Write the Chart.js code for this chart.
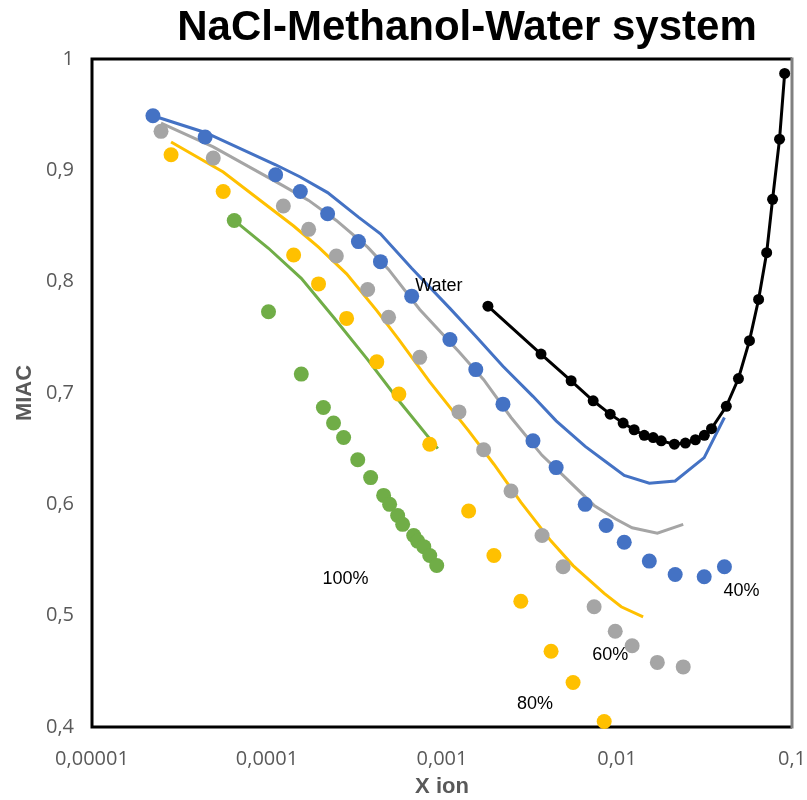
<!DOCTYPE html>
<html>
<head>
<meta charset="utf-8">
<script src="https://cdn.jsdelivr.net/npm/chart.js@4.4.1/dist/chart.umd.min.js"></script>
<style>
  body { margin: 0; background: #fff; }
  canvas { display: block; }
</style>
</head>
<body>
<canvas id="chart" width="807" height="800"></canvas>
<script>
// 40% methanol
const x40 = [2.23e-5, 4.43e-5, 1.12e-4, 1.55e-4, 2.22e-4, 3.33e-4, 4.45e-4, 6.71e-4, 1.11e-3, 1.56e-3,
  2.23e-3, 3.31e-3, 4.49e-3, 6.58e-3, 8.67e-3, 0.0110, 0.0153, 0.0215, 0.0315, 0.0411];
const miac40 = [0.949, 0.930, 0.896, 0.881, 0.861, 0.836, 0.818, 0.787, 0.748, 0.721,
  0.690, 0.657, 0.633, 0.600, 0.581, 0.566, 0.549, 0.537, 0.535, 0.544];
const model40 = [0.949, 0.934, 0.905, 0.894, 0.880, 0.858, 0.843, 0.812, 0.776, 0.751,
  0.724, 0.697, 0.675, 0.652, 0.638, 0.626, 0.619, 0.621, 0.642, 0.678];

// 60% methanol
const x60 = [2.48e-5, 4.93e-5, 1.24e-4, 1.73e-4, 2.49e-4, 3.76e-4, 4.95e-4, 7.46e-4, 1.25e-3, 1.73e-3,
  2.48e-3, 3.73e-3, 4.92e-3, 7.40e-3, 9.77e-3, 0.0122, 0.0170, 0.0239];
const miac60 = [0.935, 0.911, 0.868, 0.847, 0.823, 0.793, 0.768, 0.732, 0.683, 0.649,
  0.612, 0.572, 0.544, 0.508, 0.486, 0.473, 0.458, 0.454];
const model60 = [0.9425, 0.921, 0.886, 0.873, 0.855, 0.831, 0.811, 0.775, 0.737, 0.712,
  0.678, 0.644, 0.626, 0.599, 0.587, 0.579, 0.574, 0.582];

// 80% methanol
const x80 = [2.83e-5, 5.62e-5, 1.42e-4, 1.97e-4, 2.85e-4, 4.24e-4, 5.67e-4, 8.51e-4, 1.42e-3, 1.98e-3,
  2.82e-3, 4.20e-3, 5.61e-3, 8.45e-3];
const miac80 = [0.914, 0.881, 0.824, 0.798, 0.767, 0.728, 0.699, 0.654, 0.594, 0.554,
  0.513, 0.468, 0.440, 0.405];
const model80X = [2.83e-5, 5.62e-5, 1.42e-4, 1.97e-4, 2.85e-4, 4.24e-4, 5.67e-4, 8.51e-4, 1.42e-3, 1.98e-3,
  2.82e-3, 4.20e-3, 5.61e-3, 8.45e-3, 0.01057, 0.0141];
const model80 = [0.9254, 0.8985, 0.850, 0.831, 0.807, 0.774, 0.748, 0.710, 0.666, 0.636,
  0.602, 0.567, 0.545, 0.520, 0.508, 0.499];

// 100% methanol
const x100 = [6.50e-5, 1.02e-4, 1.57e-4, 2.10e-4, 2.40e-4, 2.74e-4, 3.30e-4, 3.91e-4, 4.64e-4, 5.02e-4,
  5.58e-4, 5.96e-4, 6.89e-4, 7.26e-4, 7.87e-4, 8.51e-4, 9.33e-4];
const miac100 = [0.855, 0.773, 0.717, 0.687, 0.673, 0.660, 0.640, 0.624, 0.608, 0.600,
  0.590, 0.582, 0.572, 0.567, 0.562, 0.554, 0.545];
const model100X = [6.50e-5, 1.02e-4, 1.57e-4, 2.40e-4, 3.76e-4, 5.81e-4, 9.46e-4];
const model100 = [0.855, 0.830, 0.803, 0.768, 0.730, 0.691, 0.650];

// water
const xWater = [1.83e-3, 3.68e-3, 5.47e-3, 7.31e-3, 9.14e-3, 0.01084, 0.01253, 0.01432, 0.01610, 0.01790,
  0.02128, 0.02460, 0.02806, 0.03155, 0.03467, 0.04214, 0.04943, 0.05715, 0.06442, 0.07166,
  0.07745, 0.08488, 0.09080];
const miacWater = [0.778, 0.735, 0.711, 0.693, 0.681, 0.673, 0.667, 0.662, 0.660, 0.657,
  0.654, 0.655, 0.658, 0.662, 0.668, 0.688, 0.713, 0.747, 0.784, 0.826,
  0.874, 0.928, 0.987];

// series labels placed in data space
const labelTexts = ["Water", "40%", "60%", "80%", "100%"];
const labelX = [9.6e-4, 0.0514, 9.14e-3, 3.40e-3, 2.81e-4];
const labelY = [0.796, 0.522, 0.465, 0.421, 0.533];

const xTicks = [1e-5, 1e-4, 1e-3, 1e-2, 1e-1];

const blue = "#4472C4";
const grey = "#A5A5A5";
const orange = "#FFC000";
const green = "#70AD47";

function pts(xs, ys) {
  return xs.map((x, i) => ({ x: x, y: ys[i] }));
}

function dots(data, color) {
  return {
    data: data,
    showLine: false,
    pointRadius: 7.5,
    pointHoverRadius: 7.5,
    pointBorderWidth: 0,
    pointBackgroundColor: color,
    clip: false,
  };
}

function model(data, color) {
  return {
    data: data,
    showLine: true,
    borderColor: color,
    borderWidth: 3,
    pointRadius: 0,
    tension: 0,
  };
}

const framePlugin = {
  id: "frame",
  beforeDatasetsDraw(chart) {
    const { ctx, chartArea: a } = chart;
    ctx.save();
    ctx.strokeStyle = "#000";
    ctx.lineWidth = 3;
    ctx.beginPath();
    ctx.moveTo(a.right, a.top);
    ctx.lineTo(a.left, a.top);
    ctx.lineTo(a.left, a.bottom);
    ctx.lineTo(a.right, a.bottom);
    ctx.stroke();
    ctx.strokeStyle = "#808080";
    ctx.beginPath();
    ctx.moveTo(a.right, a.top - 1.5);
    ctx.lineTo(a.right, a.bottom + 1.5);
    ctx.stroke();
    ctx.restore();
  },
};

const textPlugin = {
  id: "texts",
  afterDraw(chart) {
    const { ctx, scales } = chart;
    ctx.save();
    ctx.fillStyle = "#000";
    ctx.textAlign = "center";
    ctx.textBaseline = "middle";
    ctx.font = "bold 42px 'Liberation Sans', Arial, sans-serif";
    ctx.fillText("NaCl-Methanol-Water system", 467, 28);
    ctx.font = "18px 'Liberation Sans', Arial, sans-serif";
    labelTexts.forEach((t, i) => {
      ctx.fillText(t, scales.x.getPixelForValue(labelX[i]), scales.y.getPixelForValue(labelY[i]));
    });
    ctx.restore();
  },
};

new Chart(document.getElementById("chart"), {
  type: "scatter",
  data: {
    datasets: [
      {
        data: pts(xWater, miacWater),
        showLine: true,
        borderColor: "#000",
        borderWidth: 3,
        pointRadius: 5.5,
        pointHoverRadius: 5.5,
        pointBorderWidth: 0,
        pointBackgroundColor: "#000",
        tension: 0,
        clip: false,
      },
      dots(pts(x40, miac40), blue),
      dots(pts(x60, miac60), grey),
      dots(pts(x80, miac80), orange),
      dots(pts(x100, miac100), green),
      model(pts(x40, model40), blue),
      model(pts(x60, model60), grey),
      model(pts(model80X, model80), orange),
      model(pts(model100X, model100), green),
    ],
  },
  options: {
    responsive: false,
    animation: false,
    layout: { padding: { top: 59, right: 15, left: 0, bottom: 0 } },
    plugins: {
      legend: { display: false },
      tooltip: { enabled: false },
    },
    scales: {
      x: {
        type: "logarithmic",
        min: 1e-5,
        max: 0.1,
        afterBuildTicks: (scale) => {
          scale.ticks = xTicks.map((v) => ({ value: v }));
        },
        afterFit: (scale) => {
          scale.height = 73;
          scale.paddingLeft = 0;
          scale.paddingRight = 0;
        },
        grid: { display: false, drawTicks: false },
        border: { display: false },
        ticks: {
          autoSkip: false,
          maxRotation: 0,
          padding: 20,
          color: "#595959",
          font: { family: "'Open Sans', sans-serif", size: 20 },
          callback: (v) => v.toString().replace(".", ","),
        },
        title: {
          display: true,
          text: "X ion",
          color: "#595959",
          padding: { top: 0, bottom: 0 },
          font: { family: "'Liberation Sans', Arial, sans-serif", size: 22, weight: "bold" },
        },
      },
      y: {
        min: 0.4,
        max: 1,
        afterFit: (scale) => { scale.width = 92; },
        grid: { display: false, drawTicks: false },
        border: { display: false },
        ticks: {
          stepSize: 0.1,
          padding: 18,
          color: "#595959",
          font: { family: "'Open Sans', sans-serif", size: 20 },
          callback: (v) => parseFloat(v.toFixed(1)).toString().replace(".", ","),
        },
        title: {
          display: true,
          text: "MIAC",
          color: "#595959",
          padding: { top: 12, bottom: 0 },
          font: { family: "'Liberation Sans', Arial, sans-serif", size: 22, weight: "bold" },
        },
      },
    },
  },
  plugins: [framePlugin, textPlugin],
});
</script>
</body>
</html>
